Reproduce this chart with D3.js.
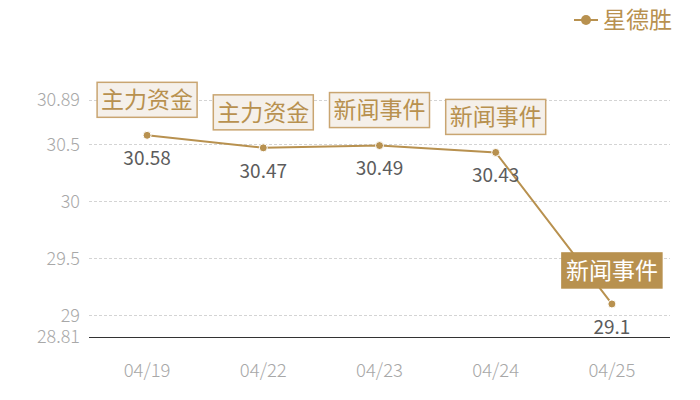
<!DOCTYPE html>
<html>
<head>
<meta charset="utf-8">
<script src="https://cdn.jsdelivr.net/npm/d3@7"></script>
<style>
  body { margin: 0; background: #fff; }
  text { font-family: "Noto Sans CJK SC", "Noto Sans", sans-serif; font-weight: 300; }
  text.reg { font-weight: 400; }
</style>
</head>
<body>
<div id="chart"></div>
<script>
// data
var dates = ["04/19", "04/22", "04/23", "04/24", "04/25"];
var prices = [30.58, 30.47, 30.49, 30.43, 29.1];
var events = ["主力资金", "主力资金", "新闻事件", "新闻事件", "新闻事件"];
var yTicks = [28.81, 29, 29.5, 30, 30.5, 30.89];
var seriesName = "星德胜";

var gold = "#b8914f";

function drawChart(){
    var width = 700, height = 400;
    var left = 89, right = 670, top = 100, bottom = 337;

    var svg = d3.select("#chart").append("svg")
        .attr("width", width)
        .attr("height", height);

    var x = d3.scaleBand().domain(dates).range([left, right]);
    var y = d3.scaleLinear().domain([28.81, 30.89]).range([bottom, top]);

    // grid lines
    svg.selectAll(".grid")
        .data(yTicks.filter(function(d){ return d !== 28.81; }))
        .enter().append("line")
        .attr("x1", left).attr("x2", right)
        .attr("y1", function(d){ return Math.round(y(d)) + 0.5; })
        .attr("y2", function(d){ return Math.round(y(d)) + 0.5; })
        .attr("stroke", "#d4d4d4")
        .attr("stroke-dasharray", "3,2");

    // y axis labels
    svg.selectAll(".ylab")
        .data(yTicks)
        .enter().append("text")
        .attr("x", 80)
        .attr("y", function(d){ return y(d); })
        .attr("dy", "0.35em")
        .attr("text-anchor", "end")
        .attr("fill", "#a8a8a8")
        .attr("font-size", 18)
        .text(function(d){ return d; });

    // x axis line
    svg.append("line")
        .attr("x1", left).attr("x2", right)
        .attr("y1", bottom + 0.5).attr("y2", bottom + 0.5)
        .attr("stroke", "#333");

    svg.selectAll(".xlab")
        .data(dates)
        .enter().append("text")
        .attr("x", function(d){ return x(d) + x.bandwidth() / 2; })
        .attr("y", 371)
        .attr("dy", "0.35em")
        .attr("text-anchor", "middle")
        .attr("fill", "#a8a8a8")
        .attr("font-size", 18.5)
        .text(function(d){ return d; });

    var cx = function(d, i){ return x(dates[i]) + x.bandwidth() / 2; };

    // line
    var line = d3.line()
        .x(function(d, i){ return cx(d, i); })
        .y(function(d){ return y(d); });

    svg.append("path")
        .datum(prices)
        .attr("d", line)
        .attr("fill", "none")
        .attr("stroke", gold)
        .attr("stroke-width", 2);

    svg.selectAll(".pt")
        .data(prices)
        .enter().append("circle")
        .attr("cx", cx)
        .attr("cy", function(d){ return y(d); })
        .attr("r", 4)
        .attr("fill", gold)
        .attr("stroke", "#fff")
        .attr("stroke-width", 1);

    // value labels
    svg.selectAll(".val")
        .data(prices)
        .enter().append("text")
        .attr("class", "reg")
        .attr("x", cx)
        .attr("y", function(d){ return y(d) + 23; })
        .attr("dy", "0.35em")
        .attr("text-anchor", "middle")
        .attr("fill", "#5c5c5c")
        .attr("font-size", 19)
        .text(function(d){ return d; });

    // event boxes
    var boxW = 100, boxH = 35;
    var ev = svg.selectAll(".ev")
        .data(events)
        .enter().append("g")
        .attr("transform", function(d, i){
            var px = x(dates[i]) + x.bandwidth() / 2;
            var py = y(prices[i]) - (i === events.length - 1 ? 16 : 18) - boxH;
            return "translate(" + (px - boxW / 2) + "," + py + ")";
        });

    ev.append("rect")
        .attr("width", boxW)
        .attr("height", boxH)
        .attr("fill", function(d, i){ return i === events.length - 1 ? gold : "#f5f0ea"; })
        .attr("stroke", function(d, i){ return i === events.length - 1 ? gold : "#c9a571"; })
        .attr("stroke-width", 1.5);

    ev.append("text")
        .attr("class", "reg")
        .attr("x", boxW / 2)
        .attr("y", boxH / 2)
        .attr("dy", "0.36em")
        .attr("text-anchor", "middle")
        .attr("font-size", 23)
        .attr("fill", function(d, i){ return i === events.length - 1 ? "#fff" : gold; })
        .text(function(d){ return d; });

    // legend
    var lg = svg.append("g").attr("transform", "translate(574,20)");
    lg.append("line").attr("x1", 0).attr("x2", 24).attr("y1", 0).attr("y2", 0)
        .attr("stroke", gold).attr("stroke-width", 2);
    lg.append("circle").attr("cx", 12).attr("cy", 0).attr("r", 5).attr("fill", gold);
    lg.append("text")
        .attr("class", "reg")
        .attr("x", 29).attr("y", 0).attr("dy", "0.36em")
        .attr("font-size", 23)
        .attr("fill", gold)
        .text(seriesName);
}

window.onload = drawChart;
</script>
</body>
</html>
